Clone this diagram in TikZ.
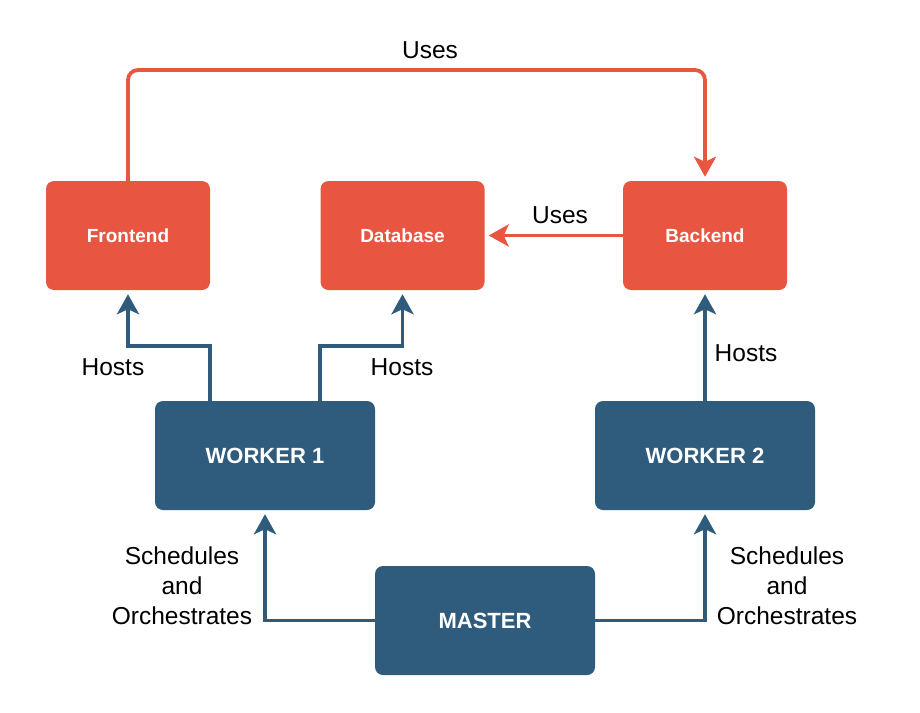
\documentclass[tikz,border=0pt]{standalone}
\usepackage{fontspec}
\setmainfont{Liberation Sans}
\usetikzlibrary{arrows.meta}
\definecolor{cred}{HTML}{E85642}
\definecolor{cblue}{HTML}{2F5B7C}
\tikzset{
  redbox/.style={fill=cred, draw=none, rounded corners=8pt, minimum width=164pt, minimum height=109pt, text=white, font=\fontsize{19}{22}\selectfont\bfseries, inner sep=0pt},
  bluebox/.style={fill=cblue, draw=none, rounded corners=8pt, minimum width=220pt, minimum height=109pt, text=white, font=\fontsize{22}{26}\selectfont\bfseries, inner sep=0pt},
  redline/.style={draw=cred, line width=3.8pt, -{Stealth[length=20pt,width=22pt,inset=5pt]}, shorten >=4pt},
  blueline/.style={draw=cblue, line width=3.8pt, -{Stealth[length=20pt,width=22pt,inset=5pt]}, shorten >=4pt},
  lbl/.style={font=\fontsize{24.5}{30}\selectfont, align=center, text=black, inner sep=0pt}
}
\begin{document}
\begin{tikzpicture}[x=1pt,y=-1pt]
\useasboundingbox (0,0) rectangle (920,712);
\node[redbox] (fe) at (128,235.5) {Frontend};
\node[redbox] (db) at (402.5,235.5) {Database};
\node[redbox] (be) at (705,235.5) {Backend};
\node[bluebox] (w1) at (265,455.5) {WORKER 1};
\node[bluebox] (w2) at (705,455.5) {WORKER 2};
\node[bluebox] (ms) at (485,620.5) {MASTER};
% edges
\draw[redline, rounded corners=10pt] (fe.north) -- (128,70) -- (705,70) -- (be.north);
\draw[redline] (be.west) -- (db.east);
\draw[blueline] (210,401) |- (128,346) -- (fe.south);
\draw[blueline] (320,401) |- (402.5,346) -- (db.south);
\draw[blueline] (w2.north) -- (be.south);
\draw[blueline] (ms.west) -| (w1.south);
\draw[blueline] (ms.east) -| (w2.south);
% labels
\node[lbl] (l1) at (430,50) {Uses};
\node[lbl] (l2) at (560,215) {Uses};
\node[lbl] (l3) at (113,367) {Hosts};
\node[lbl] (l4) at (402,367) {Hosts};
\node[lbl] (l5) at (746,353) {Hosts};
\node[lbl] (l6) at (182,586) {Schedules\\and\\Orchestrates};
\node[lbl] (l7) at (787,586) {Schedules\\and\\Orchestrates};
\end{tikzpicture}
\end{document}
